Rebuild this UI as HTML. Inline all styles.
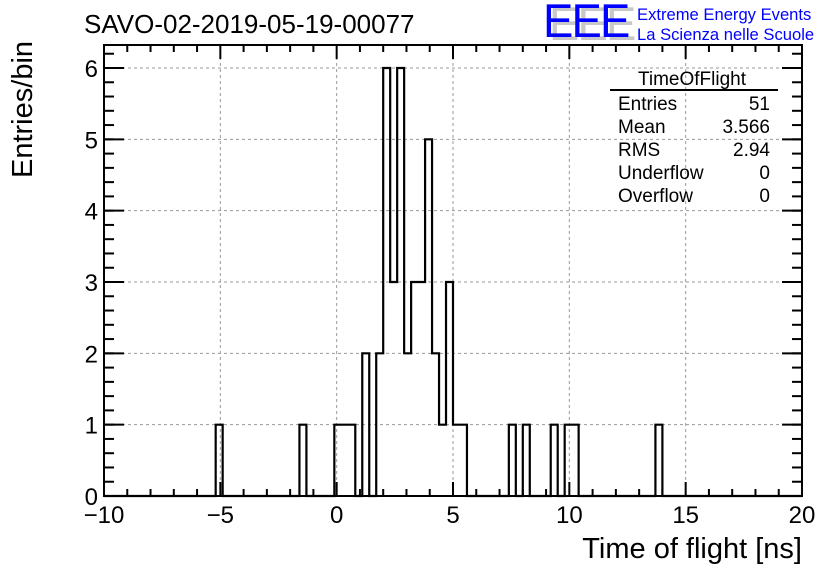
<!DOCTYPE html>
<html><head><meta charset="utf-8"><style>
body{margin:0;background:#fff}
svg{display:block;font-family:"Liberation Sans",Arial,sans-serif}
</style></head><body>
<svg id="c" width="836" height="572" viewBox="0 0 836 572">
<text x="84" y="33" font-size="26">SAVO-02-2019-05-19-00077</text>
<g>
<text x="0" y="0" font-size="50" fill="#c8c8c8" letter-spacing="-2" transform="translate(549,40) scale(0.91,0.95)">EEE</text>
<text x="0" y="0" font-size="50" fill="#0000ff" letter-spacing="-2" transform="translate(543,37) scale(0.91,0.95)">EEE</text>
<text x="637" y="20" font-size="16.6" fill="#0000ff">Extreme Energy Events</text>
<text x="637" y="40" font-size="16.6" fill="#0000ff">La Scienza nelle Scuole</text>
</g>
<g id="grid"></g>
<g id="ticks"></g>
<path id="hist" fill="none" stroke="#000" stroke-width="2.2"></path>
<rect x="104" y="45" width="698" height="451" fill="none" stroke="#000" stroke-width="2"/>
<text x="802" y="558" font-size="29" text-anchor="end">Time of flight [ns]</text>
<text transform="translate(32,178) rotate(-90)" font-size="29">Entries/bin</text>
<g font-size="19">
<text x="692" y="85" text-anchor="middle">TimeOfFlight</text>
<line x1="610" y1="90" x2="778" y2="90" stroke="#000" stroke-width="2"/>
<text x="618" y="110">Entries</text><text x="770" y="110" text-anchor="end">51</text>
<text x="618" y="133">Mean</text><text x="770" y="133" text-anchor="end">3.566</text>
<text x="618" y="156">RMS</text><text x="770" y="156" text-anchor="end">2.94</text>
<text x="618" y="179">Underflow</text><text x="770" y="179" text-anchor="end">0</text>
<text x="618" y="202">Overflow</text><text x="770" y="202" text-anchor="end">0</text>
</g>
</svg>
<script>
const binLow = -10;
const binWidth = 0.3;
const filledBins = [16,28,33,34,35,37,39,40,41,42,43,44,45,46,47,48,49,50,51,58,60,64,66,67,79];
const filledCounts = [1,1,1,1,1,2,2,6,3,6,2,3,3,5,2,1,3,1,1,1,1,1,1,1,1];
const xTicks = [-10,-5,0,5,10,15,20];
const xTickLabels = ["\u221210","\u22125","0","5","10","15","20"];
const yTicks = [0,1,2,3,4,5,6];
const NS="http://www.w3.org/2000/svg";
const X0=104,X1=802,Y0=496,YT=45;
const xs=v=>X0+(v+10)/30*(X1-X0);
const ys=v=>Y0-v*(Y0-68)/6;
const counts=new Array(100).fill(0);
filledBins.forEach((b,i)=>counts[b]=filledCounts[i]);
let d=`M${xs(binLow)},${ys(0)}`;
for(let i=0;i<100;i++){const a=xs(binLow+i*binWidth),b=xs(binLow+(i+1)*binWidth),y=ys(counts[i]);d+=` L${a},${y} L${b},${y}`;}
d+=` L${xs(20)},${ys(0)}`;
document.getElementById('hist').setAttribute('d',d);
const g=document.getElementById('grid'),t=document.getElementById('ticks'),svg=document.getElementById('c');
function ln(p,x1,y1,x2,y2,st,w,dash){const l=document.createElementNS(NS,'line');l.setAttribute('x1',x1);l.setAttribute('y1',y1);l.setAttribute('x2',x2);l.setAttribute('y2',y2);l.setAttribute('stroke',st);l.setAttribute('stroke-width',w);if(dash)l.setAttribute('stroke-dasharray',dash);p.appendChild(l);return l;}
function tx(x,y,s,anchor){const e=document.createElementNS(NS,'text');e.setAttribute('x',x);e.setAttribute('y',y);e.setAttribute('font-size','24');e.setAttribute('text-anchor',anchor);e.textContent=s;svg.appendChild(e);return e;}
xTicks.forEach((v,i)=>{
 const x=xs(v);
 if(i>0&&i<xTicks.length-1){const gl=ln(g,x,YT,x,Y0,'#999',1,'3,3');
 
 }
 ln(t,x,Y0,x,Y0-14,'#000',2);ln(t,x,YT,x,YT+14,'#000',2);
 const e=tx(x,523,xTickLabels[i],'middle');
 
 
});
for(let v=-10;v<=20;v+=1){if(v%5){const x=xs(v);ln(t,x,Y0,x,Y0-7,'#000',2);ln(t,x,YT,x,YT+7,'#000',2);}}
yTicks.forEach(v=>{
 const y=ys(v);
 if(v>0){const gl=ln(g,X0,y,X1,y,'#999',1,'3,3');
 
 }
 ln(t,X0,y,X0+20,y,'#000',2);ln(t,X1,y,X1-20,y,'#000',2);
 const e=tx(98,y+9,String(v),'end');
 
 
});
for(let v=0;v<=6.3;v+=0.2){const y=ys(v);if(y<YT)break;ln(t,X0,y,X0+10,y,'#000',2);ln(t,X1,y,X1-10,y,'#000',2);}
</script>
</body></html>
